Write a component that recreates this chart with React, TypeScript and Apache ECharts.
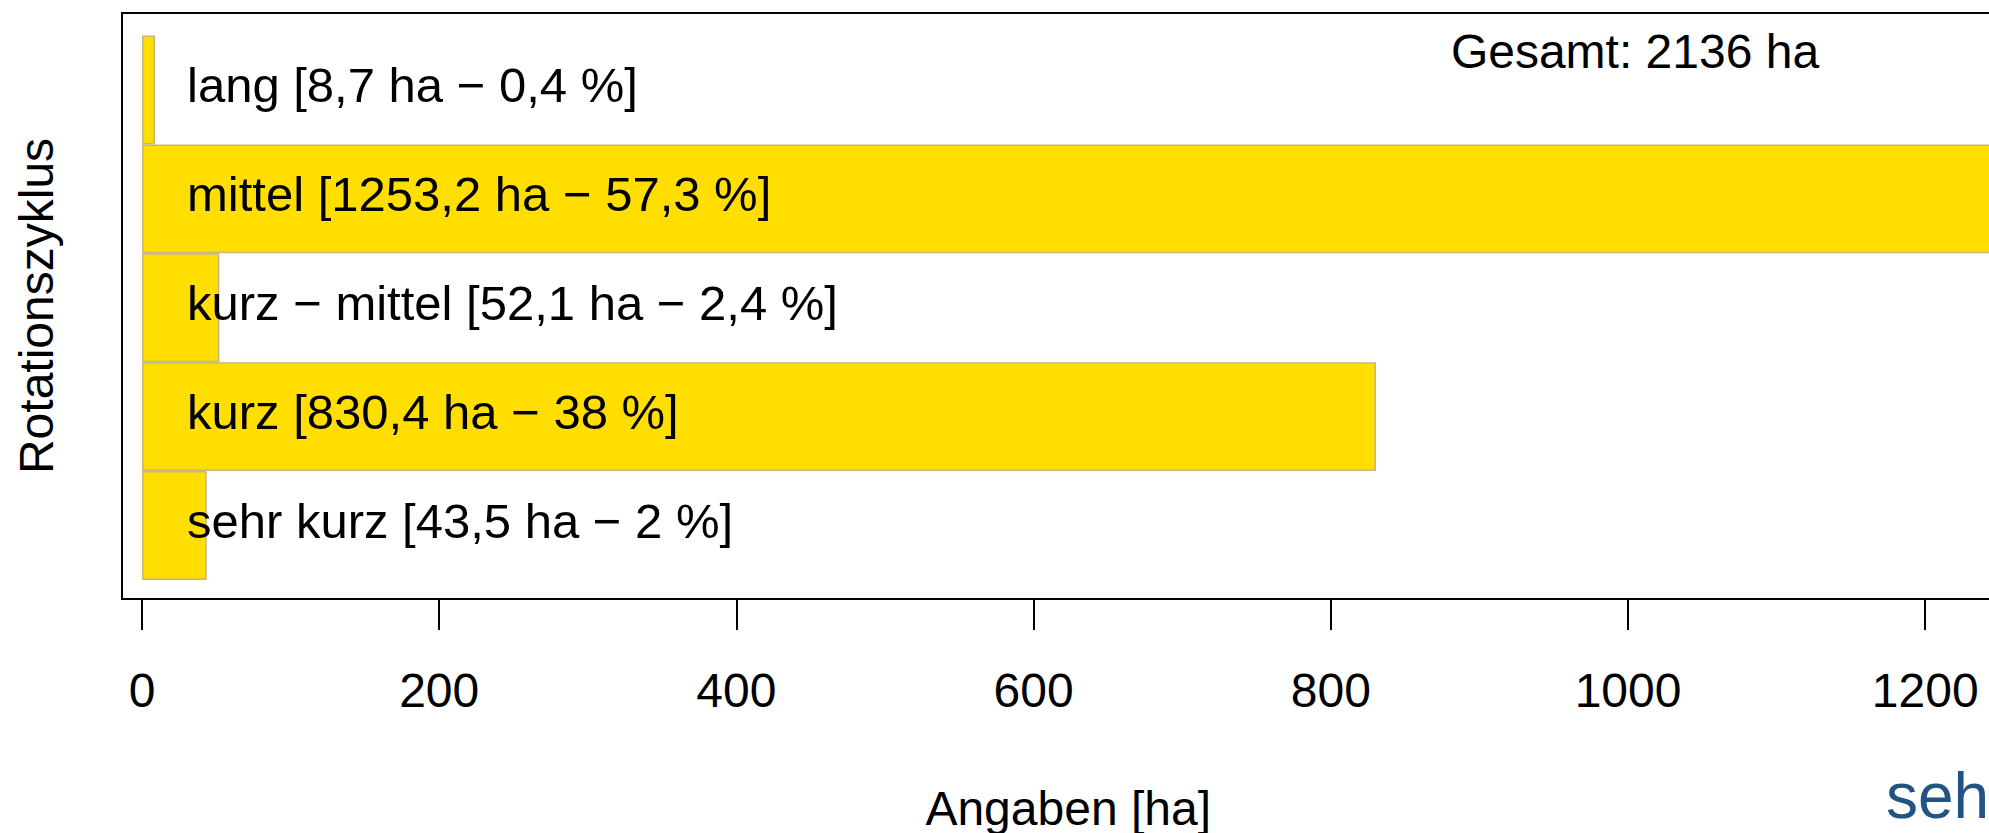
import React, { useEffect, useRef } from "react";
import * as echarts from "echarts";

const categories = ["sehr kurz", "kurz", "kurz − mittel", "mittel", "lang"];
const areaHa = [43.5, 830.4, 52.1, 1253.2, 8.7];
const sharePercent = [2, 38, 2.4, 57.3, 0.4];
const tickValues = [0, 200, 400, 600, 800, 1000, 1200];
const totalHa = 2136;
const xTitle = "Angaben [ha]";
const yTitle = "Rotationszyklus";
const brandText = "seh";

const FONT = "'Liberation Sans', Arial, Helvetica, sans-serif";
const fmt = (v: number) => String(v).replace(".", ",");

const X_MIN = -13.46;
const X_MAX = 1260;
const GRID_LEFT = 122;
const GRID_WIDTH = 1892.4;

export default function App() {
  const ref = useRef<HTMLDivElement>(null);
  useEffect(() => {
    if (!ref.current) return;
    const chart = echarts.init(ref.current, undefined, { renderer: "svg" });
    chart.setOption({
      animation: false,
      backgroundColor: "#ffffff",
      textStyle: { fontFamily: FONT },
      grid: [
        {
          left: GRID_LEFT,
          top: 13,
          width: GRID_WIDTH,
          height: 586,
          show: true,
          borderColor: "#000",
          borderWidth: 2,
          backgroundColor: "transparent",
          containLabel: false,
          outerBoundsMode: "none",
        },
        {
          left: GRID_LEFT,
          top: 35.5,
          width: GRID_WIDTH,
          height: 544.5,
          containLabel: false,
          outerBoundsMode: "none",
        },
      ],
      xAxis: [
        {
          gridIndex: 0,
          type: "value",
          min: X_MIN,
          max: X_MAX,
          axisLine: { show: false },
          splitLine: { show: false },
          axisTick: {
            show: true,
            length: 31,
            customValues: tickValues,
            lineStyle: { color: "#000", width: 2 },
          },
          axisLabel: {
            show: true,
            customValues: tickValues,
            formatter: (v: number) => String(v),
            margin: 91,
            verticalAlign: "middle",
            fontSize: 48,
            color: "#000",
            fontFamily: FONT,
          },
          name: xTitle,
          nameLocation: "middle",
          nameGap: 209,
          nameTextStyle: {
            fontSize: 48,
            color: "#000",
            fontFamily: FONT,
            verticalAlign: "middle",
          },
        },
        { gridIndex: 1, type: "value", min: X_MIN, max: X_MAX, show: false },
      ],
      yAxis: [
        {
          gridIndex: 0,
          type: "value",
          min: 0,
          max: 1,
          axisLine: { show: false },
          axisTick: { show: false },
          axisLabel: { show: false },
          splitLine: { show: false },
          name: yTitle,
          nameLocation: "middle",
          nameRotate: 90,
          nameGap: 86,
          nameTextStyle: {
            fontSize: 48,
            color: "#000",
            fontFamily: FONT,
            verticalAlign: "middle",
          },
        },
        { gridIndex: 1, type: "category", data: categories, show: false },
      ],
      series: [
        {
          type: "bar",
          xAxisIndex: 1,
          yAxisIndex: 1,
          data: areaHa,
          barCategoryGap: "0%",
          itemStyle: { color: "#FFDE00", borderColor: "#c4b67c", borderWidth: 1.5 },
          label: {
            show: true,
            position: "insideLeft",
            distance: 45,
            offset: [0, -5],
            fontSize: 49,
            color: "#000",
            fontFamily: FONT,
            formatter: (p: any) =>
              `${categories[p.dataIndex]} [${fmt(areaHa[p.dataIndex])} ha − ${fmt(
                sharePercent[p.dataIndex]
              )} %]`,
          },
        },
      ],
      graphic: [
        {
          type: "text",
          x: 1635,
          y: 51,
          style: {
            text: `Gesamt: ${totalHa} ha`,
            fontSize: 48,
            fontFamily: FONT,
            fill: "#000",
            align: "center",
            verticalAlign: "middle",
          },
        },
        {
          type: "text",
          x: 1886,
          y: 796,
          style: {
            text: brandText,
            fontSize: 64,
            fontFamily: FONT,
            fill: "#235382",
            align: "left",
            verticalAlign: "middle",
          },
        },
      ],
    });
    return () => chart.dispose();
  }, []);
  return (
    <div
      ref={ref}
      style={{ position: "absolute", left: 0, top: 0, width: 1989, height: 833 }}
    />
  );
}
